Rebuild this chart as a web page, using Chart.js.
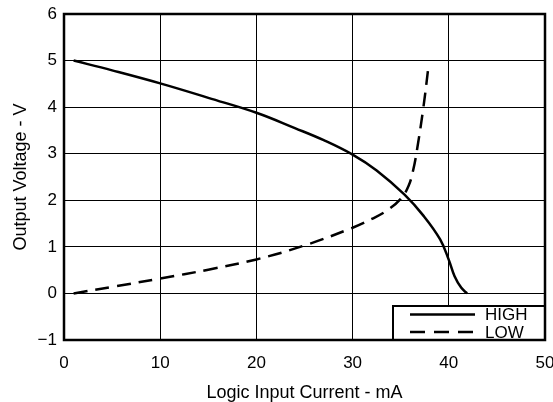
<!DOCTYPE html>
<html>
<head>
<meta charset="utf-8">
<script src="https://cdn.jsdelivr.net/npm/chart.js@4/dist/chart.umd.min.js"></script>
<style>
  html, body { margin: 0; padding: 0; background: #fff; }
  #wrap { width: 553px; height: 402px; position: relative; }
</style>
</head>
<body>
<div id="wrap"><canvas id="c"></canvas></div>
<script>
// Series values
const highX = [1, 5, 10, 15, 20, 24, 27, 30, 32.5, 35.4, 37.4, 39.1, 40.0, 40.6, 41.3, 41.9];
const highY = [5.0, 4.79, 4.51, 4.20, 3.88, 3.55, 3.29, 2.98, 2.64, 2.12, 1.66, 1.16, 0.72, 0.37, 0.12, 0.0];
const lowX = [1, 5, 10, 15, 20, 25, 30, 32, 33.5, 35.0, 35.8, 36.3, 36.7, 37.35, 37.9];
const lowY = [0, 0.14, 0.32, 0.51, 0.73, 1.03, 1.41, 1.6, 1.77, 2.03, 2.3, 2.65, 3.09, 3.98, 4.9];
const seriesNames = ['HIGH', 'LOW'];
const xTitle = 'Logic Input Current - mA';
const yTitle = 'Output Voltage - V';
const xMin = 0, xMax = 50, xStep = 10;
const yMin = -1, yMax = 6, yStep = 1;

const toPts = (xs, ys) => xs.map((x, i) => ({ x: x, y: ys[i] }));
const FONT = 'Liberation Sans, Arial, Helvetica, sans-serif';

const framePlugin = {
  id: 'frame',
  afterDatasetsDraw(chart) {
    const { ctx, chartArea: a } = chart;
    // legend box in lower right corner
    const w = 152, h = 34;
    const lx = a.right - w, ly = a.bottom - h;
    ctx.save();
    ctx.fillStyle = '#fff';
    ctx.fillRect(lx, ly, w, h);
    ctx.strokeStyle = '#000';
    ctx.lineWidth = 2;
    ctx.strokeRect(lx, ly, w, h);
    const rows = [ly + 8.5, ly + 26];
    const dashes = [[], [15, 9]];
    ctx.lineWidth = 2.5;
    rows.forEach((ry, i) => {
      ctx.setLineDash(dashes[i]);
      ctx.beginPath();
      ctx.moveTo(lx + 17, ry);
      ctx.lineTo(lx + 82, ry);
      ctx.stroke();
    });
    ctx.setLineDash([]);
    ctx.fillStyle = '#000';
    ctx.font = '17px ' + FONT;
    ctx.textAlign = 'left';
    ctx.textBaseline = 'middle';
    rows.forEach((ry, i) => ctx.fillText(seriesNames[i], lx + 92, ry + 1));
    ctx.restore();
  },
  afterDraw(chart) {
    const { ctx, chartArea: a } = chart;
    ctx.save();
    ctx.strokeStyle = '#000';
    ctx.lineWidth = 2.5;
    ctx.strokeRect(a.left, a.top, a.right - a.left, a.bottom - a.top);
    ctx.restore();
  }
};

new Chart(document.getElementById('c'), {
  type: 'scatter',
  data: {
    datasets: [
      {
        label: seriesNames[0],
        data: toPts(highX, highY),
        showLine: true,
        borderColor: '#000',
        borderWidth: 2.5,
        pointRadius: 0,
        tension: 0.4,
        fill: false
      },
      {
        label: seriesNames[1],
        data: toPts(lowX, lowY),
        showLine: true,
        borderColor: '#000',
        borderWidth: 2.5,
        borderDash: [14, 8],
        pointRadius: 0,
        tension: 0.4,
        fill: false
      }
    ]
  },
  options: {
    responsive: true,
    maintainAspectRatio: false,
    animation: false,
    layout: { padding: { top: 14, right: 8, left: 0, bottom: 0 } },
    plugins: { legend: { display: false }, tooltip: { enabled: false } },
    scales: {
      x: {
        type: 'linear',
        min: xMin, max: xMax,
        ticks: { stepSize: xStep, color: '#000', padding: 13, font: { size: 17, family: FONT } },
        grid: { color: '#000', lineWidth: 1, drawTicks: false },
        border: { display: false },
        title: { display: true, text: xTitle, color: '#000', font: { size: 18, family: FONT }, padding: { top: 0, bottom: -2 } },
        afterFit(s) { s.height = 62; s.paddingLeft = 0; s.paddingRight = 0; }
      },
      y: {
        type: 'linear',
        min: yMin, max: yMax,
        ticks: {
          stepSize: yStep, color: '#000', padding: 7, font: { size: 17, family: FONT },
          callback: v => (v < 0 ? '\u2212' + Math.abs(v) : String(v))
        },
        grid: { color: '#000', lineWidth: 1, drawTicks: false },
        border: { display: false },
        title: { display: true, text: yTitle, color: '#000', font: { size: 18, family: FONT }, padding: { top: 10, bottom: 0 } },
        afterFit(s) { s.width = 64; s.paddingTop = 0; s.paddingBottom = 0; }
      }
    }
  },
  plugins: [framePlugin]
});
</script>
</body>
</html>
